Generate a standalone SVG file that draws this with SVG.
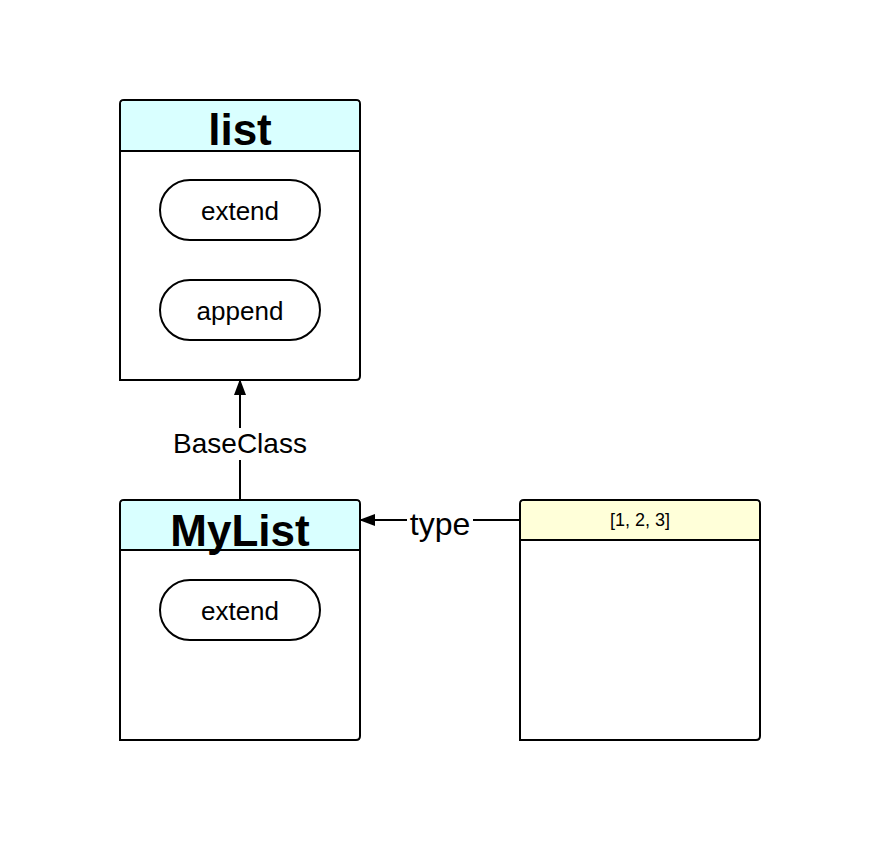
<svg xmlns="http://www.w3.org/2000/svg" width="882" height="845" viewBox="0 0 882 845">
<style>
.box{fill:#ffffff;stroke:#000;stroke-width:2}
.hdr{stroke:#000;stroke-width:2}
.cyan{fill:#d9ffff}
.yel{fill:#ffffd9}
.pill{fill:#fff;stroke:#000;stroke-width:2}
.title{font-family:"Liberation Sans",Arial,sans-serif;font-weight:bold;font-size:44px;text-anchor:middle;fill:#000}
.meth{font-family:"Liberation Sans",Arial,sans-serif;font-size:26px;text-anchor:middle;fill:#000}
.lbl{font-family:"Liberation Sans",Arial,sans-serif;text-anchor:middle;fill:#000}
.edge{stroke:#000;stroke-width:2;fill:none}
</style>
<defs>
<marker id="arr" markerWidth="16" markerHeight="12" refX="16" refY="6" orient="auto" markerUnits="userSpaceOnUse">
<path d="M0,0 L16,6 L0,12 Z" fill="#000"/>
</marker>
</defs>
<rect width="882" height="845" fill="#fff"/>
<g id="connectors">
<line class="edge" x1="240" y1="500" x2="240" y2="379" marker-end="url(#arr)"/>
<rect x="170" y="428" width="140" height="32" fill="#fff"/>
<text class="lbl" x="240" y="453" font-size="28">BaseClass</text>
<line class="edge" x1="520" y1="520" x2="359" y2="520" marker-end="url(#arr)"/>
<rect x="407" y="505" width="66" height="32" fill="#fff"/>
<text class="lbl" x="440" y="535" font-size="32">type</text>
</g>
<g id="list">
<path class="box" d="M120,380 L120,104 Q120,100 124,100 L356,100 Q360,100 360,104 L360,376 Q360,380 356,380 Z"/>
<path class="cyan" d="M121,151 L121,104 Q121,101 124,101 L356,101 Q359,101 359,104 L359,151 Z"/>
<line class="hdr" x1="120" y1="151" x2="360" y2="151"/>
<text class="title" x="240" y="145">list</text>
<g id="list-extend">
<rect class="pill" x="160" y="180" width="160" height="60" rx="30" ry="30"/>
<text class="meth" x="240" y="220">extend</text>
</g>
<g id="list-append">
<rect class="pill" x="160" y="280" width="160" height="60" rx="30" ry="30"/>
<text class="meth" x="240" y="320">append</text>
</g>
</g>
<g id="mylist">
<path class="box" d="M120,740 L120,504 Q120,500 124,500 L356,500 Q360,500 360,504 L360,736 Q360,740 356,740 Z"/>
<path class="cyan" d="M121,550 L121,504 Q121,501 124,501 L356,501 Q359,501 359,504 L359,550 Z"/>
<line class="hdr" x1="120" y1="550" x2="360" y2="550"/>
<text class="title" x="240" y="546">MyList</text>
<g id="mylist-extend">
<rect class="pill" x="160" y="580" width="160" height="60" rx="30" ry="30"/>
<text class="meth" x="240" y="620">extend</text>
</g>
</g>
<g id="instance">
<path class="box" d="M520,740 L520,504 Q520,500 524,500 L756,500 Q760,500 760,504 L760,736 Q760,740 756,740 Z"/>
<path class="yel" d="M521,540 L521,504 Q521,501 524,501 L756,501 Q759,501 759,504 L759,540 Z"/>
<line class="hdr" x1="520" y1="540" x2="760" y2="540"/>
<text class="lbl" x="640" y="526" font-size="18">[1, 2, 3]</text>
</g>
</svg>
